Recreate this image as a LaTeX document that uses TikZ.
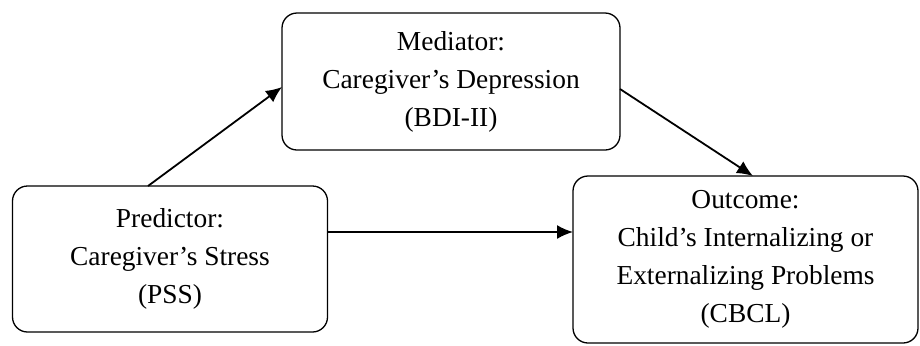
\documentclass[tikz,border=0pt]{standalone}
\usepackage{fontspec}
\setmainfont{Liberation Serif}
\usetikzlibrary{arrows.meta}

\tikzset{
  varbox/.style={draw, rounded corners=7.5pt, line width=.65pt, align=center,
    inner sep=0pt, outer sep=0pt,
    font=\fontsize{13.7pt}{19pt}\selectfont},
  path/.style={line width=.9pt, -{Latex[length=8pt,width=7pt]}}
}

\begin{document}
\begin{tikzpicture}[x=.5pt,y=-.5pt]

\useasboundingbox (0,0) rectangle (920,345);

% the three variables
\node[varbox, minimum width=157.5pt, minimum height=73pt] (pred) at (170,259)
  {Predictor:\\Caregiver’s Stress\\(PSS)};
\node[varbox, minimum width=169pt, minimum height=68.5pt] (med) at (451,81.5)
  {Mediator:\\Caregiver’s Depression\\(BDI-II)};
\node[varbox, minimum width=172.5pt, minimum height=83.5pt] (out) at (745.5,259.5)
  {Outcome:\\Child’s Internalizing or\\Externalizing Problems\\(CBCL)};

% paths
\draw[path] ([xshift=-11pt]pred.north) -- ([yshift=-2.75pt]med.west);
\draw[path] ([yshift=-3.75pt]med.east) -- ([xshift=3.75pt]out.north);
\draw[path] ([yshift=13.5pt]pred.east) -- ([yshift=13.5pt]pred.east -| out.west);

\end{tikzpicture}
\end{document}
